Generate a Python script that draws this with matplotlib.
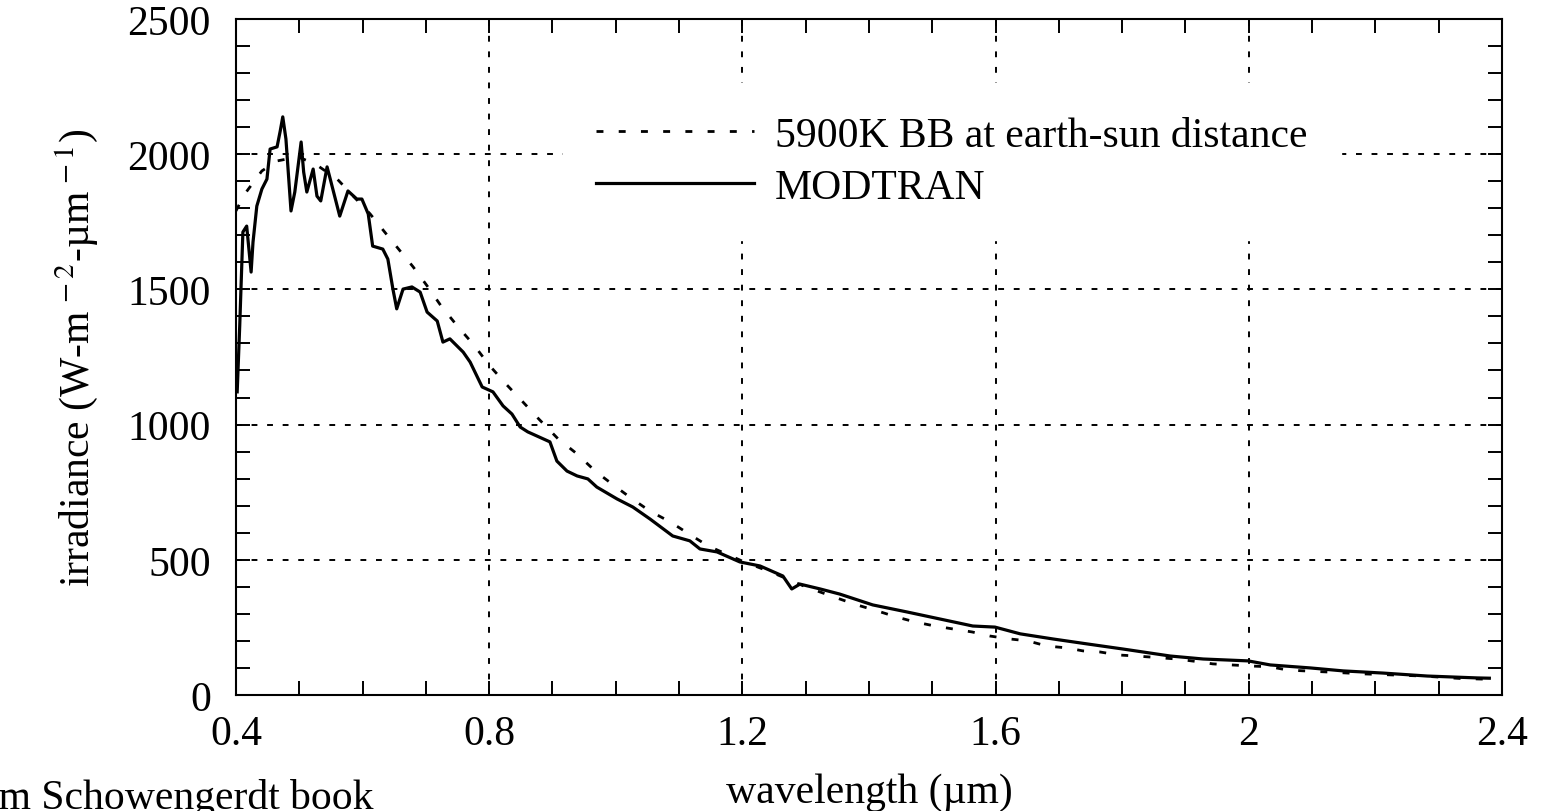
import matplotlib
matplotlib.use('Agg')
import matplotlib.pyplot as plt
from matplotlib.ticker import MultipleLocator, FormatStrFormatter

plt.rcParams['font.family'] = ['Liberation Serif', 'DejaVu Serif']
plt.rcParams['mathtext.fontset'] = 'stix'

# 5900K blackbody at earth-sun distance (W m^-2 um^-1)
bb_wl = [0.40, 0.414, 0.441, 0.465, 0.498, 0.525, 0.560, 0.612, 0.635, 0.658,
         0.680, 0.702, 0.724, 0.751, 0.776, 0.800, 0.825, 0.852, 0.877, 0.909,
         0.937, 0.969, 0.996, 1.026, 1.054, 1.086, 1.116, 1.146, 1.20, 1.25,
         1.30, 1.35, 1.381, 1.413, 1.444, 1.473, 1.504, 1.533, 1.563, 1.591,
         1.623, 1.651, 1.681, 1.713, 1.738, 1.765, 1.793, 1.823, 1.886, 1.923,
         1.943, 1.973, 2.005, 2.034, 2.062, 2.124, 2.181, 2.275, 2.334, 2.38]
bb_irr = [1790, 1853, 1938, 1975, 1990, 1964, 1908, 1779, 1712, 1646,
          1583, 1513, 1439, 1361, 1294, 1220, 1154, 1087, 1024, 947,
          895, 825, 777, 725, 680, 640, 595, 551, 495, 450,
          400, 358, 333, 311, 288, 270, 255, 244, 233, 218,
          207, 200, 181, 174, 163, 159, 148, 144, 133, 122,
          115, 111, 107, 104, 92, 85, 78, 70, 61, 58]

# MODTRAN solar irradiance
mod_wl = [0.402, 0.406, 0.411, 0.417, 0.424, 0.427, 0.433, 0.441, 0.449, 0.454,
          0.465, 0.470, 0.474, 0.479, 0.487, 0.493, 0.503, 0.507, 0.512, 0.522,
          0.528, 0.534, 0.544, 0.549, 0.564, 0.577, 0.591, 0.599, 0.609, 0.616,
          0.632, 0.640, 0.648, 0.654, 0.664, 0.678, 0.691, 0.702, 0.718, 0.727,
          0.738, 0.759, 0.770, 0.789, 0.806, 0.822, 0.836, 0.849, 0.861, 0.896,
          0.907, 0.923, 0.939, 0.956, 0.970, 1.002, 1.027, 1.054, 1.090, 1.117,
          1.133, 1.160, 1.196, 1.228, 1.264, 1.278, 1.291, 1.323, 1.354, 1.406,
          1.460, 1.512, 1.564, 1.599, 1.639, 1.691, 1.744, 1.801, 1.876, 1.928,
          1.999, 2.034, 2.097, 2.149, 2.212, 2.282, 2.361, 2.38]
mod_irr = [1121, 1365, 1712, 1734, 1564, 1675, 1808, 1871, 1908, 2019,
           2027, 2086, 2138, 2056, 1790, 1860, 2045, 1934, 1860, 1945,
           1845, 1827, 1953, 1908, 1771, 1864, 1834, 1834, 1779, 1660,
           1649, 1612, 1501, 1428, 1501, 1509, 1490, 1416, 1383, 1305,
           1317, 1268, 1231, 1139, 1121, 1069, 1039, 991, 973, 936,
           865, 828, 810, 799, 769, 725, 695, 651, 588, 570,
           540, 529, 492, 477, 440, 392, 410, 392, 373, 333,
           307, 281, 255, 251, 226, 207, 189, 170, 144, 133,
           126, 111, 100, 89, 81, 70, 63, 62]

fig = plt.figure(figsize=(15.44, 8.12), dpi=100)
ax = fig.add_axes([0.1528, 0.1429, 0.8200, 0.8325])

ax.plot(bb_wl, bb_irr, color='black', lw=2.0, linestyle=(0, (2.5, 5.5)),
        label='5900K BB at earth-sun distance')
ax.plot(mod_wl, mod_irr, color='black', lw=2.3, label='MODTRAN')

ax.set_xlim(0.4, 2.4)
ax.set_ylim(0, 2500)
ax.xaxis.set_major_locator(MultipleLocator(0.4))
ax.xaxis.set_minor_locator(MultipleLocator(0.1))
ax.xaxis.set_major_formatter(FormatStrFormatter('%g'))
ax.yaxis.set_major_locator(MultipleLocator(500))
ax.yaxis.set_minor_locator(MultipleLocator(100))

ax.tick_params(which='both', direction='in', top=True, right=True,
               length=10, width=1.4, labelsize=30)
ax.tick_params(axis='x', pad=14)
ax.tick_params(axis='y', pad=18)
for s in ax.spines.values():
    s.set_linewidth(1.5)

ax.grid(True, which='major', color='black', lw=1.4, linestyle=(0, (3, 5)))

ax.set_xlabel('wavelength (\u00b5m)', fontsize=30, labelpad=14)
ax.set_ylabel('irradiance (W-m$^{\\,-2}$-\u00b5m$^{\\,-1}$)', fontsize=30, labelpad=20)

leg = ax.legend(loc='upper left', bbox_to_anchor=(0.258, 0.905), fontsize=30,
                handlelength=3.8, handletextpad=0.5, borderpad=0.8,
                labelspacing=0.32, fancybox=False, framealpha=1.0,
                edgecolor='white', borderaxespad=0)

fig.text(-0.0324, -0.008, 'from Schowengerdt book', fontsize=30, ha='left', va='bottom')

fig.savefig('out.png', dpi=100)
